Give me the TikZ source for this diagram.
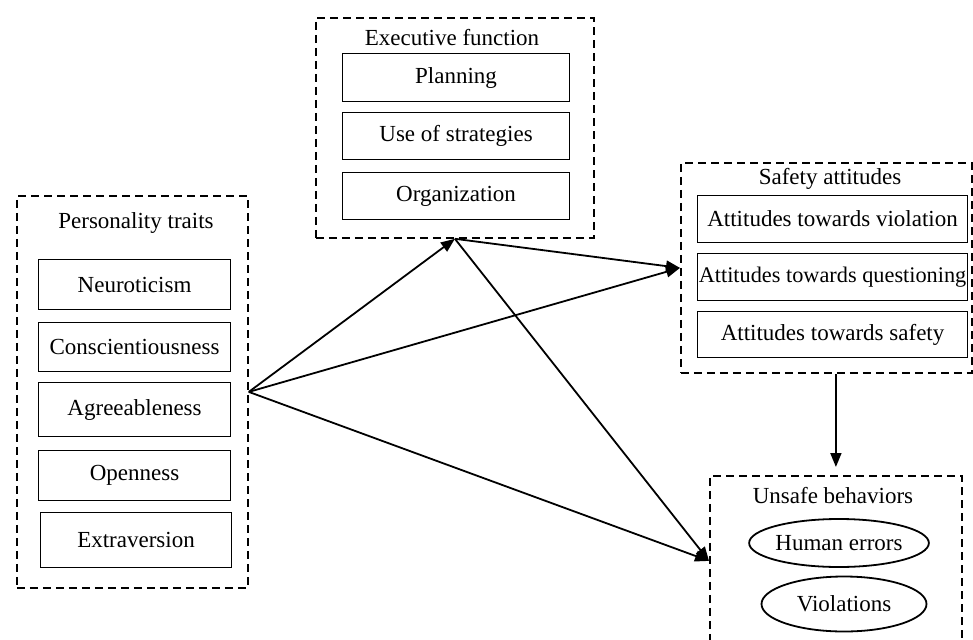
\documentclass[tikz,border=0pt]{standalone}
\usepackage{fontspec}
\setmainfont{Liberation Serif}
\usetikzlibrary{arrows.meta,shapes.geometric}
\begin{document}
\begin{tikzpicture}[x=1pt,y=-1pt,
  group/.style={draw, dash pattern=on 8pt off 5pt, line width=1.8pt, inner sep=0pt, anchor=north west},
  item/.style={draw, line width=1.1pt, inner sep=0pt, anchor=north west, font=\fontsize{23}{27}\selectfont},
  oval/.style={draw, ellipse, line width=1.8pt, inner sep=0pt, font=\fontsize{23}{27}\selectfont},
  title/.style={inner sep=0pt, font=\fontsize{23}{27}\selectfont},
  link/.style={line width=1.8pt, -{Triangle[length=14pt,width=11pt]}}]
\useasboundingbox (0,0) rectangle (973,639);
% Personality traits
\node[group, minimum width=231pt, minimum height=392pt] (pers) at (16,195) {};
\node[title] (perst) at (136,223) {Personality traits};
\node[item, minimum width=192pt, minimum height=50pt] (neu) at (38,259) {Neuroticism};
\node[item, minimum width=192pt, minimum height=49pt] (con) at (38,322) {Conscientiousness};
\node[item, minimum width=192pt, minimum height=54pt] (agr) at (38,382) {Agreeableness};
\node[item, minimum width=192pt, minimum height=50pt] (ope) at (38,450) {Openness};
\node[item, minimum width=191pt, minimum height=55pt] (ext) at (40,512) {Extraversion};
% Executive function
\node[group, minimum width=278pt, minimum height=220pt] (exec) at (315,17) {};
\node[title] (exect) at (452,38) {Executive function};
\node[item, minimum width=227pt, minimum height=48pt] (pla) at (342,53) {Planning};
\node[item, minimum width=227pt, minimum height=47pt] (use) at (342,112) {Use of strategies};
\node[item, minimum width=227pt, minimum height=47pt] (org) at (342,172) {Organization};
% Safety attitudes
\node[group, minimum width=291pt, minimum height=210pt] (safe) at (680,162) {};
\node[title] (safet) at (830,179) {Safety attitudes};
\node[item, minimum width=270pt, minimum height=47pt] (av) at (697,195) {Attitudes towards violation};
\node[item, minimum width=270pt, minimum height=47pt, font=\fontsize{22.3}{27}\selectfont] (aq) at (697,253) {Attitudes towards questioning};
\node[item, minimum width=270pt, minimum height=46pt] (as) at (697,311) {Attitudes towards safety};
% Unsafe behaviors
\node[group, minimum width=252pt, minimum height=170pt] (unsafe) at (709,475) {};
\node[title] (unsafet) at (833,496) {Unsafe behaviors};
\node[oval, minimum width=168pt, minimum height=48pt] (hum) at (839,543) {Human errors};
\node[oval, minimum width=165pt, minimum height=55pt] (vio) at (844,604) {Violations};
% Connectors
\draw[link] (pers.east) -- (exec.south);
\draw[link] (pers.east) -- (safe.west);
\draw[link] (pers.east) -- (unsafe.west);
\draw[link] (exec.south) -- (safe.west);
\draw[link] (exec.south) -- (unsafe.west);
\draw[link, shorten >=8pt] (safe.south -| unsafe.north) -- (unsafe.north);
\end{tikzpicture}
\end{document}
